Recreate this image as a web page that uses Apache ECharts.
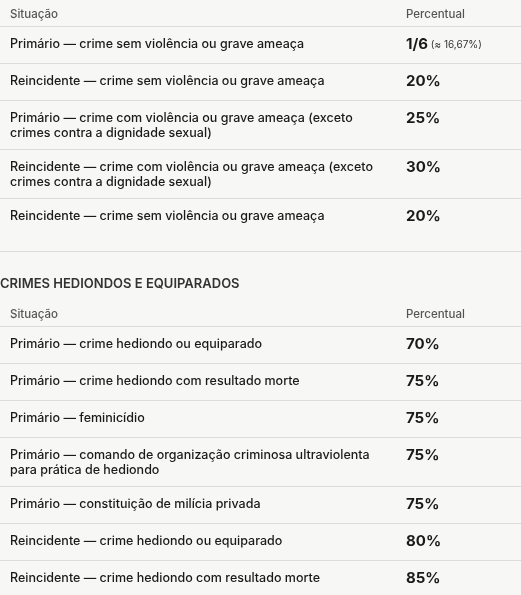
<!DOCTYPE html>
<html><head><meta charset="utf-8">
<script src="https://cdn.jsdelivr.net/npm/echarts@6/dist/echarts.min.js"></script>
<style>html,body{margin:0;background:#f7f7f6}#c{width:521px;height:595px}</style>
</head><body><div id="c"></div>
<script>
const headers = ["Situação", "Percentual"];
const sectionTitle = "CRIMES HEDIONDOS E EQUIPARADOS";
const situacoes1 = [
  "Primário — crime sem violência ou grave ameaça",
  "Reincidente — crime sem violência ou grave ameaça",
  "Primário — crime com violência ou grave ameaça (exceto\ncrimes contra a dignidade sexual)",
  "Reincidente — crime com violência ou grave ameaça (exceto\ncrimes contra a dignidade sexual)",
  "Reincidente — crime sem violência ou grave ameaça"
];
const percentuais1 = ["1/6", "20%", "25%", "30%", "20%"];
const notas1 = ["(≈ 16,67%)", "", "", "", ""];
const situacoes2 = [
  "Primário — crime hediondo ou equiparado",
  "Primário — crime hediondo com resultado morte",
  "Primário — feminicídio",
  "Primário — comando de organização criminosa ultraviolenta\npara prática de hediondo",
  "Primário — constituição de milícia privada",
  "Reincidente — crime hediondo ou equiparado",
  "Reincidente — crime hediondo com resultado morte"
];
const percentuais2 = ["70%", "75%", "75%", "75%", "75%", "80%", "85%"];

const F = "Inter, 'Noto Sans', sans-serif";
const els = [];
function line(y){ els.push({type:'rect',shape:{x:0,y:y,width:521,height:1},style:{fill:'#dcdcda'},silent:true}); }
function txt(x,y,t,size,weight,color){ els.push({type:'text',x:x,y:y,style:{text:t,font:weight+' '+size+'px '+F,fill:color,textVerticalAlign:'top',lineHeight:15}}); }
function table(top, rows, pcts, notes){
  txt(10, top-6, headers[0], 11.5, 500, '#555');
  txt(406, top-6, headers[1], 11.5, 500, '#555');
  let y = top+13; line(y);
  rows.forEach((r,i)=>{
    const multi = r.includes('\n');
    const h = multi ? 49 : 37;
    txt(10, y+11, r, 12.5, 500, '#1a1a1a');
    els.push({type:'text',x:406,y:y+11,style:{rich:{b:{font:'700 15px '+F,fill:'#1a1a1a'},s:{font:'400 10px '+F,fill:'#333'}},text:'{b|'+pcts[i]+'}'+(notes&&notes[i]?'{s| '+notes[i]+'}':''),textVerticalAlign:'top'}});
    y += h; if (i < rows.length-1 || !notes) line(y);
  });
  return y;
}
table(13, situacoes1, percentuais1, notas1);
line(251);
txt(0, 277, sectionTitle, 13, 600, '#333');
table(313, situacoes2, percentuais2, null);

const chart = echarts.init(document.getElementById('c'));
chart.setOption({backgroundColor:'#f7f7f6', graphic: els});
</script></body></html>
